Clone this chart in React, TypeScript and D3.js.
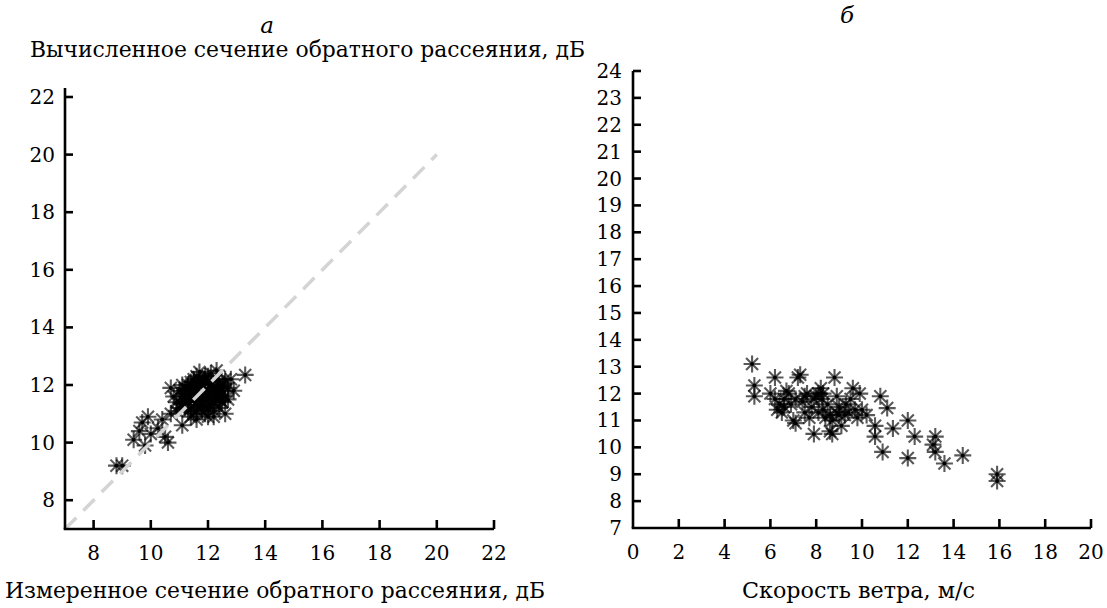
import React from "react";
import * as d3 from "d3";

// Panel a: measured vs computed backscatter cross-section, dB
const measuredA = [8.8, 9.0, 9.4, 9.6, 9.7, 9.9, 9.8, 10.0, 10.25, 10.6, 10.5, 10.4, 10.7, 11.1, 10.7, 10.9, 10.8, 11.0, 11.0, 11.1, 11.2, 11.3, 11.3, 11.4, 11.4, 11.5, 11.5, 11.6, 11.6, 11.7, 11.7, 11.8, 11.8, 11.9, 11.9, 12.0, 12.0, 12.1, 12.1, 12.2, 12.2, 12.3, 12.3, 12.4, 12.4, 12.5, 12.6, 12.7, 12.8, 13.3, 11.2, 11.5, 11.9, 12.0, 11.4, 12.6, 11.6, 12.9,
  11.1, 11.2, 11.3, 11.4, 11.5, 11.6, 11.7, 11.8, 11.9, 12.0, 12.1, 12.2, 12.3, 12.4, 12.5, 11.3, 11.5, 11.7, 11.9, 12.1, 12.3, 12.5, 11.4, 11.6, 11.8, 12.0, 12.2, 12.4, 11.2, 11.6, 12.0, 12.4, 10.9, 11.1, 12.6, 12.7,
  11.35, 11.55, 11.75, 11.95, 12.15, 12.35, 11.45, 11.65, 11.85, 12.05, 12.25, 11.25, 11.85, 12.45, 11.05, 12.55];
const computedA = [9.2, 9.2, 10.1, 10.4, 10.7, 10.9, 9.9, 10.3, 10.5, 10.0, 10.2, 10.8, 11.0, 10.6, 11.9, 11.4, 11.6, 11.2, 11.8, 12.0, 11.4, 11.7, 11.1, 12.1, 11.5, 11.0, 11.8, 12.3, 11.3, 12.45, 11.7, 11.1, 12.0, 11.5, 12.2, 10.9, 11.8, 12.4, 11.3, 10.9, 11.9, 12.5, 11.6, 12.1, 11.2, 11.8, 12.2, 11.5, 12.2, 12.35, 11.9, 12.2, 11.0, 12.3, 10.9, 11.0, 10.8, 11.8,
  11.6, 11.7, 11.4, 11.8, 11.5, 11.9, 11.3, 11.6, 11.8, 11.5, 11.7, 11.4, 11.9, 11.6, 12.0, 12.0, 12.1, 12.2, 12.3, 12.0, 12.2, 11.4, 11.2, 11.1, 11.3, 11.2, 11.1, 11.5, 11.2, 11.9, 12.1, 11.9, 11.1, 11.5, 11.6, 11.9,
  11.55, 11.75, 11.45, 11.65, 11.85, 11.75, 11.95, 12.05, 11.35, 11.25, 11.55, 11.85, 12.15, 11.45, 11.35, 12.05];

// Panel b: wind speed vs backscatter cross-section
const windB = [5.2, 5.3, 5.3, 6.2, 6.0, 6.2, 6.4, 6.6, 6.6, 6.5, 6.8, 6.9, 7.0, 7.1, 7.2, 7.3, 7.4, 7.5, 7.6, 7.8, 7.9, 8.0, 8.1, 8.2, 8.25, 8.3, 8.4, 8.5, 8.6, 8.7, 8.7, 8.8, 8.9, 9.0, 9.1, 9.25, 9.3, 9.5, 9.6, 9.7, 9.8, 9.9, 10.0, 10.2, 10.57, 10.57, 10.8, 10.9, 11.1, 11.35, 12.0, 12.0, 12.3, 13.1, 13.2, 13.2, 13.6, 14.4, 15.9, 15.9,
  6.3, 6.7, 7.1, 7.5, 7.9, 8.3, 8.6, 9.0, 9.4, 7.7, 8.1, 8.9];
const sigmaB = [13.1, 12.3, 11.9, 12.6, 12.0, 11.8, 11.6, 11.8, 11.5, 11.3, 12.0, 11.6, 11.0, 10.9, 12.6, 12.7, 11.7, 11.3, 12.0, 11.5, 10.5, 11.9, 11.3, 12.2, 11.8, 12.0, 11.1, 11.6, 10.6, 10.5, 11.0, 12.6, 11.9, 11.2, 10.8, 11.2, 11.6, 11.8, 12.2, 11.4, 11.1, 12.0, 11.4, 11.2, 10.8, 10.4, 11.9, 9.83, 11.46, 10.7, 11.0, 9.6, 10.4, 10.1, 10.4, 9.83, 9.4, 9.7, 9.0, 8.75,
  11.4, 12.1, 11.8, 11.9, 11.8, 11.4, 11.2, 11.5, 11.3, 11.1, 12.0, 11.3];

const ticksAX = [8, 10, 12, 14, 16, 18, 20, 22];
const ticksAY = [8, 10, 12, 14, 16, 18, 20, 22];
const ticksBX = [0, 2, 4, 6, 8, 10, 12, 14, 16, 18, 20];
const ticksBY = [7, 8, 9, 10, 11, 12, 13, 14, 15, 16, 17, 18, 19, 20, 21, 22, 23, 24];
const diagonal = [7, 20];

const FONT = "'DejaVu Serif', 'Liberation Serif', 'Times New Roman', serif";
const TICK_FS = 20;
const LABEL_FS = 23;

function Star({ x, y }: { x: number; y: number }) {
  const r = 8.5;
  const d = r * Math.SQRT1_2;
  return (
    <g>
      <path
        d={`M${x - r},${y}L${x + r},${y}M${x},${y - r}L${x},${y + r}M${x - d},${y - d}L${x + d},${y + d}M${x - d},${y + d}L${x + d},${y - d}`}
        stroke="rgba(0,0,0,0.65)"
        strokeWidth={2.1}
        fill="none"
      />
      <circle cx={x} cy={y} r={2} fill="#000" />
    </g>
  );
}

export default function App() {
  const xA = d3.scaleLinear().domain([7, 22]).range([65, 494]);
  const yA = d3.scaleLinear().domain([7, 22]).range([529, 97]);
  const yATop = 88;
  const xB = d3.scaleLinear().domain([0, 20]).range([633, 1091]);
  const yB = d3.scaleLinear().domain([7, 24]).range([528, 71]);

  const axisW = 2.6;
  const tickLen = 8;
  const diagLine = d3.line<number>().x((v) => xA(v)).y((v) => yA(v));
  const txt = { fontFamily: FONT };

  return (
    <svg
      width={1107}
      height={608}
      style={{ position: "absolute", left: 0, top: 0, background: "#fff", fontFamily: FONT }}
    >
      <rect width={1107} height={608} fill="#fff" />
      {/* Panel a */}
      <text style={txt} x={267} y={33} fontSize={23} fontStyle="italic" textAnchor="middle">а</text>
      <text style={txt} x={30} y={57} fontSize={LABEL_FS} textLength={555} lengthAdjust="spacingAndGlyphs">Вычисленное сечение обратного рассеяния, дБ</text>

      {measuredA.map((v, i) => (
        <Star key={"a" + i} x={xA(v)} y={yA(computedA[i])} />
      ))}
      <path
        d={diagLine(diagonal) || ""}
        stroke="#d4d4d4"
        strokeWidth={3.5}
        strokeDasharray="16 10"
        fill="none"
      />

      <line x1={xA(7)} x2={xA(7)} y1={yATop} y2={yA(7)} stroke="#000" strokeWidth={axisW} />
      <line x1={xA(7) - axisW / 2} x2={xA(22)} y1={yA(7)} y2={yA(7)} stroke="#000" strokeWidth={axisW} />
      {ticksAY.map((t) => (
        <g key={"ay" + t}>
          <line x1={xA(7)} x2={xA(7) + tickLen} y1={yA(t)} y2={yA(t)} stroke="#000" strokeWidth={axisW} />
          <text style={txt} x={xA(7) - 10} y={yA(t)} dy="0.35em" fontSize={TICK_FS} textAnchor="end">{t}</text>
        </g>
      ))}
      {ticksAX.map((t) => (
        <g key={"ax" + t}>
          <line x1={xA(t)} x2={xA(t)} y1={yA(7)} y2={yA(7) - tickLen - 1} stroke="#000" strokeWidth={axisW} />
          <text style={txt} x={xA(t)} y={yA(7) + 31} fontSize={TICK_FS} textAnchor="middle">{t}</text>
        </g>
      ))}
      <text style={txt} x={5} y={598} fontSize={LABEL_FS} textLength={540} lengthAdjust="spacingAndGlyphs">Измеренное сечение обратного рассеяния, дБ</text>

      {/* Panel b */}
      <text style={txt} x={847} y={23} fontSize={23} fontStyle="italic" textAnchor="middle">б</text>
      {windB.map((v, i) => (
        <Star key={"b" + i} x={xB(v)} y={yB(sigmaB[i])} />
      ))}
      <line x1={xB(0)} x2={xB(0)} y1={yB(24)} y2={yB(7)} stroke="#000" strokeWidth={axisW} />
      <line x1={xB(0) - axisW / 2} x2={xB(20)} y1={yB(7)} y2={yB(7)} stroke="#000" strokeWidth={axisW} />
      {ticksBY.map((t) => (
        <g key={"by" + t}>
          {t > 7 && (
            <line x1={xB(0)} x2={xB(0) + tickLen} y1={yB(t)} y2={yB(t)} stroke="#000" strokeWidth={axisW} />
          )}
          <text style={txt} x={622} y={yB(t)} dy="0.35em" fontSize={TICK_FS} textAnchor="end">{t}</text>
        </g>
      ))}
      {ticksBX.map((t) => (
        <g key={"bx" + t}>
          {t > 0 && (
            <line x1={xB(t)} x2={xB(t)} y1={yB(7)} y2={yB(7) - tickLen - 1} stroke="#000" strokeWidth={axisW} />
          )}
          <text style={txt} x={xB(t)} y={yB(7) + 31} fontSize={TICK_FS} textAnchor="middle">{t}</text>
        </g>
      ))}
      <text style={txt} x={742} y={598} fontSize={LABEL_FS} textLength={233} lengthAdjust="spacingAndGlyphs">Скорость ветра, м/с</text>
    </svg>
  );
}
